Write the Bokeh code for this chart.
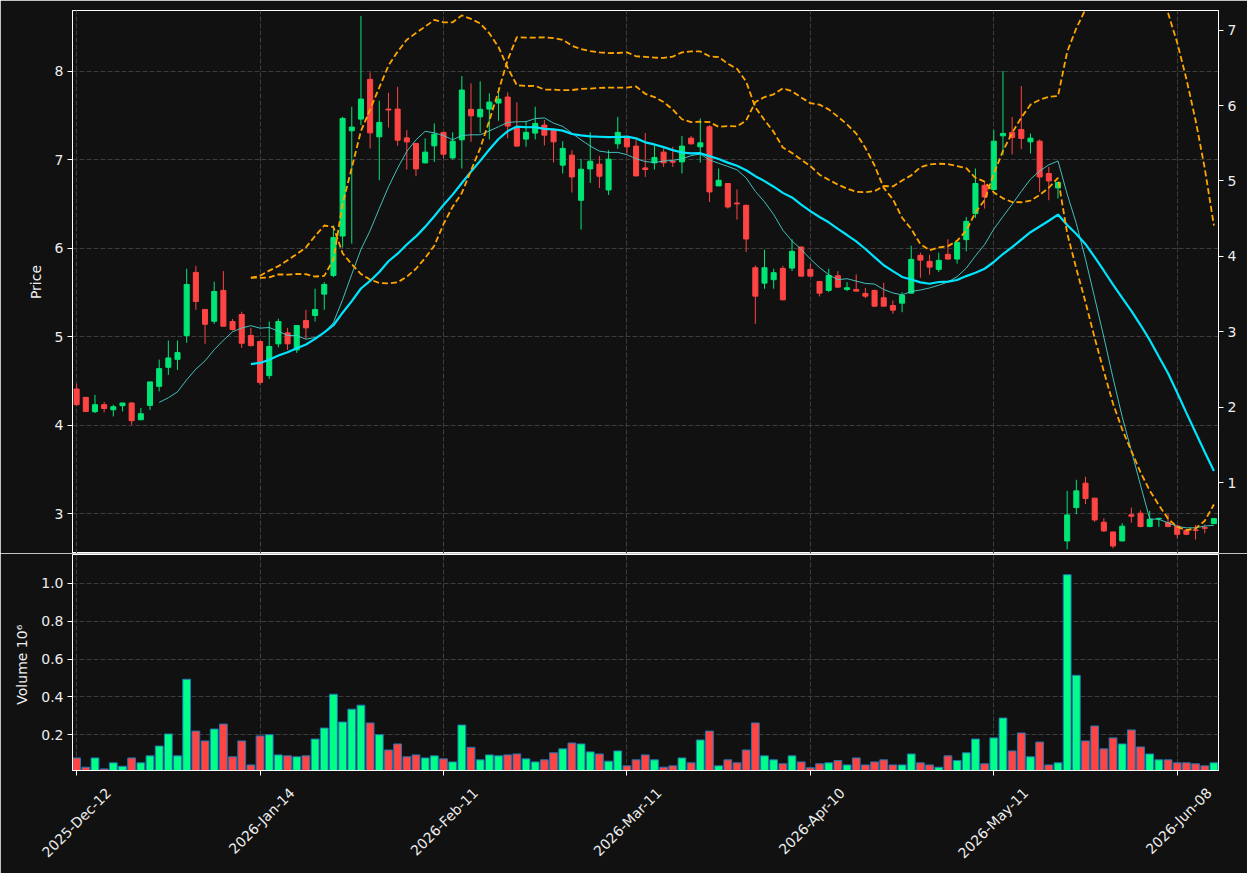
import numpy as np
import pandas as pd
from math import pi
from bokeh.plotting import figure
from bokeh.models import ColumnDataSource, Range1d, LinearAxis, FixedTicker, PrintfTickFormatter
from bokeh.layouts import column
from bokeh.embed import file_html
from bokeh.resources import INLINE

# ---------------- data ----------------
open_ = [4.41, 4.316, 4.154, 4.233, 4.176, 4.222, 4.252, 4.063, 4.225, 4.44,
         4.655, 4.745, 5.014, 5.726, 5.308, 5.175, 5.523, 5.172, 5.251, 5.014,
         4.946, 4.561, 4.92, 5.044, 4.852, 5.183, 5.24, 5.481, 5.692, 6.137,
         7.325, 7.457, 7.906, 7.257, 7.57, 7.57, 7.245, 7.182, 6.963, 7.155,
         7.307, 7.019, 7.223, 7.567, 7.483, 7.57, 7.638, 7.706, 7.363, 7.231,
         7.299, 7.389, 7.34, 6.937, 7.05, 6.541, 6.895, 6.948, 6.657, 7.178,
         7.245, 7.152, 6.906, 6.963, 7.084, 6.98, 6.974, 7.242, 7.144, 7.37,
         6.703, 6.73, 6.51, 6.484, 5.779, 5.605, 5.644, 5.771, 5.775, 6.012,
         5.76, 5.624, 5.523, 5.689, 5.534, 5.534, 5.489, 5.523, 5.44, 5.353,
         5.379, 5.492, 5.919, 5.851, 5.76, 5.93, 5.877, 6.096, 6.39, 6.71,
         6.662, 7.268, 7.307, 7.34, 7.20, 7.208, 6.843, 6.68, 2.695, 3.071,
         3.347, 3.178, 2.906, 2.796, 2.695, 2.99, 3.008, 2.857, 2.945, 2.902,
         2.864, 2.816, 2.82, 2.845, 2.89]
high = [4.47, 4.32, 4.343, 4.264, 4.233, 4.252, 4.26, 4.196, 4.49, 4.742,
        4.957, 4.957, 5.768, 5.80, 5.31, 5.621, 5.741, 5.20, 5.282, 5.10,
        4.957, 5.172, 5.203, 5.10, 5.13, 5.304, 5.542, 5.617, 6.258, 7.483,
        7.596, 8.622, 7.985, 7.664, 7.755, 7.822, 7.333, 7.19, 7.239, 7.408,
        7.31, 7.307, 7.943, 7.861, 7.883, 7.748, 7.804, 7.759, 7.646, 7.438,
        7.596, 7.446, 7.35, 7.208, 7.106, 7.005, 7.307, 7.042, 7.106, 7.483,
        7.25, 7.219, 7.30, 7.163, 7.126, 7.144, 7.265, 7.265, 7.465, 7.389,
        6.899, 6.73, 6.662, 6.49, 5.805, 5.983, 5.768, 5.80, 6.10, 6.02,
        5.825, 5.63, 5.768, 5.74, 5.617, 5.704, 5.553, 5.53, 5.61, 5.41,
        5.503, 6.028, 5.949, 5.926, 5.949, 6.10, 6.07, 6.352, 6.899, 6.748,
        7.333, 8.0, 7.48, 7.83, 7.295, 7.227, 6.917, 6.75, 3.26, 3.385,
        3.419, 3.18, 2.951, 2.80, 2.895, 3.071, 3.042, 3.034, 2.955, 2.997,
        2.87, 2.82, 2.876, 2.88, 2.95]
low = [4.22, 4.15, 4.139, 4.146, 4.10, 4.157, 4.003, 4.06, 4.173, 4.383,
       4.569, 4.626, 4.931, 5.304, 4.92, 5.146, 5.119, 5.07, 4.874, 4.89,
       4.459, 4.524, 4.881, 4.852, 4.818, 4.976, 5.172, 5.304, 5.673, 6.006,
       6.051, 7.389, 7.126, 6.767, 7.363, 7.155, 6.888, 6.812, 6.955, 6.974,
       7.012, 7.0, 6.899, 7.20, 7.302, 7.227, 7.438, 7.239, 7.15, 7.144,
       7.227, 7.159, 6.967, 6.843, 6.628, 6.209, 6.736, 6.68, 6.601, 7.121,
       7.069, 6.81, 6.804, 6.888, 6.917, 6.917, 6.843, 7.17, 6.967, 6.521,
       6.70, 6.447, 6.322, 5.956, 5.146, 5.542, 5.542, 5.41, 5.741, 5.68,
       5.68, 5.455, 5.503, 5.55, 5.515, 5.51, 5.435, 5.34, 5.34, 5.259,
       5.277, 5.49, 5.666, 5.70, 5.73, 5.87, 5.825, 5.964, 6.34, 6.447,
       6.65, 7.05, 7.058, 7.118, 7.069, 6.635, 6.541, 6.56, 2.60, 2.997,
       3.11, 2.91, 2.796, 2.612, 2.69, 2.90, 2.85, 2.85, 2.853, 2.85,
       2.725, 2.76, 2.71, 2.78, 2.89]
close = [4.233, 4.157, 4.233, 4.19, 4.21, 4.252, 4.052, 4.131, 4.49, 4.64,
         4.761, 4.821, 5.59, 5.398, 5.141, 5.511, 5.119, 5.081, 4.926, 4.90,
         4.485, 4.89, 5.172, 4.92, 5.127, 5.10, 5.308, 5.59, 6.119, 7.465,
         7.367, 7.683, 7.302, 7.42, 7.56, 7.219, 7.20, 6.895, 7.084, 7.287,
         7.061, 7.208, 7.785, 7.494, 7.567, 7.649, 7.683, 7.378, 7.152, 7.307,
         7.408, 7.276, 7.20, 7.126, 6.804, 6.891, 6.982, 6.812, 7.005, 7.307,
         7.144, 6.816, 6.888, 7.024, 6.963, 6.97, 7.152, 7.178, 7.189, 6.635,
         6.767, 6.465, 6.50, 6.103, 5.458, 5.779, 5.723, 5.417, 5.964, 5.684,
         5.684, 5.492, 5.692, 5.56, 5.553, 5.515, 5.458, 5.345, 5.345, 5.30,
         5.466, 5.873, 5.865, 5.786, 5.862, 5.877, 6.066, 6.303, 6.73, 6.578,
         7.208, 7.295, 7.25, 7.239, 7.242, 6.804, 6.759, 6.741, 2.989, 3.26,
         3.173, 2.932, 2.808, 2.638, 2.861, 2.974, 2.857, 2.94, 2.95, 2.857,
         2.77, 2.77, 2.812, 2.838, 2.947]
volume_m = [0.077, 0.028, 0.077, 0.019, 0.051, 0.033, 0.077, 0.051, 0.088, 0.14,
            0.204, 0.088, 0.493, 0.219, 0.167, 0.23, 0.256, 0.083, 0.167, 0.04,
            0.193, 0.20, 0.093, 0.088, 0.083, 0.088, 0.177, 0.235, 0.414, 0.267,
            0.335, 0.356, 0.262, 0.20, 0.119, 0.151, 0.083, 0.093, 0.077, 0.088,
            0.072, 0.056, 0.251, 0.133, 0.067, 0.093, 0.088, 0.093, 0.098, 0.072,
            0.056, 0.067, 0.104, 0.125, 0.156, 0.151, 0.109, 0.098, 0.06, 0.114,
            0.035, 0.067, 0.093, 0.067, 0.028, 0.035, 0.077, 0.051, 0.172, 0.219,
            0.035, 0.067, 0.051, 0.119, 0.262, 0.088, 0.067, 0.046, 0.088, 0.056,
            0.025, 0.046, 0.051, 0.063, 0.04, 0.077, 0.04, 0.056, 0.067, 0.04,
            0.04, 0.098, 0.051, 0.04, 0.028, 0.088, 0.063, 0.104, 0.177, 0.046,
            0.183, 0.288, 0.114, 0.209, 0.083, 0.161, 0.04, 0.051, 1.046, 0.514,
            0.167, 0.246, 0.125, 0.183, 0.151, 0.225, 0.135, 0.098, 0.067, 0.067,
            0.051, 0.051, 0.046, 0.035, 0.051]
tick_pos = [0, 20, 40, 60, 80, 100, 120]
tick_labels = ["2025-Dec-12", "2026-Jan-14", "2026-Feb-11", "2026-Mar-11",
               "2026-Apr-10", "2026-May-11", "2026-Jun-08"]
price_ticks = [3, 4, 5, 6, 7, 8]
lower_ticks = [1, 2, 3, 4, 5, 6, 7]
vol_ticks = [0.2, 0.4, 0.6, 0.8, 1.0]

# ---------------- styling ----------------
BG = "#111111"
UP, DOWN = "#00e676", "#ff4444"
VUP, VDOWN = "#00ff88", "#ff4444"
TXT = "#eeeeee"
GRID = "#3d3d3d"
FONT = "DejaVu Sans"
W = 1247
BL, BR = 72, 29           # left / right borders (px)
X0, X1 = -0.45, 124.5     # x range of the frames
LABEL_SHIFT_PX = 32       # rotated labels are centred on their tick

n = len(close)
df = pd.DataFrame(dict(x=np.arange(n), open=open_, high=high, low=low,
                       close=close, volume=volume_m))
up = df["close"] >= df["open"]
df["color"] = np.where(up, UP, DOWN)
df["vcolor"] = np.where(up, VUP, VDOWN)
df["top"] = df[["open", "close"]].max(axis=1)
df["bottom"] = df[["open", "close"]].min(axis=1)
df["ma10"] = df["close"].rolling(10).mean()
df["ma20"] = df["close"].rolling(20).mean()
sd = df["close"].rolling(20).std(ddof=0)
df["upper"] = df["ma20"] + 2 * sd
df["lower"] = df["ma20"] - 2 * sd
src = ColumnDataSource(df)


def style_axis(ax):
    ax.axis_line_color = "white"
    ax.major_tick_line_color = "white"
    ax.minor_tick_line_color = None
    ax.major_tick_out = 5
    ax.major_tick_in = 0
    ax.major_label_text_color = TXT
    ax.major_label_text_font = FONT
    ax.major_label_text_font_size = "14px"
    ax.major_label_standoff = 4
    ax.axis_label_text_color = TXT
    ax.axis_label_text_font = FONT
    ax.axis_label_text_font_size = "14px"
    ax.axis_label_text_font_style = "normal"
    ax.axis_label_standoff = 8


def style_grid(fig):
    for g in fig.grid:
        g.grid_line_color = GRID
        g.grid_line_dash = "5 2"
        g.grid_line_width = 1


xr = Range1d(X0, X1)

# ---------------- price panel ----------------
p = figure(width=W, height=553, x_range=xr, y_range=Range1d(2.553, 8.683),
           output_backend="svg", toolbar_location=None, x_axis_location=None,
           min_border_left=BL, min_border_right=BR, min_border_top=10, min_border_bottom=0,
           background_fill_color=BG, border_fill_color=BG)
p.outline_line_color = "white"
p.extra_y_ranges = {"lower": Range1d(0.062, 7.26)}
p.yaxis.ticker = FixedTicker(ticks=price_ticks)
p.yaxis.axis_label = "Price"
style_axis(p.yaxis[0])
rax = LinearAxis(y_range_name="lower", ticker=FixedTicker(ticks=lower_ticks))
style_axis(rax)
p.add_layout(rax, "right")
p.xgrid.ticker = FixedTicker(ticks=tick_pos)
style_grid(p)

p.segment(x0="x", y0="high", x1="x", y1="low", color="color", line_width=1, source=src)
p.vbar(x="x", width=0.55, top="top", bottom="bottom", fill_color="color",
       line_color="color", line_width=1, source=src)
p.line("x", "ma10", color="#48d1cc", line_width=1, alpha=0.9, source=src)
p.line("x", "ma20", color="#00e5ff", line_width=2.2, source=src)
p.line("x", "upper", color="#ffa500", line_width=1.8, line_dash="6 3", source=src)
p.line("x", "lower", color="#ffa500", line_width=1.8, line_dash="6 3",
       y_range_name="lower", source=src)

# ---------------- volume panel ----------------
v = figure(width=W, height=320, x_range=xr, y_range=Range1d(0.0105, 1.153),
           output_backend="svg", toolbar_location=None,
           min_border_left=BL, min_border_right=BR, min_border_top=1, min_border_bottom=103,
           background_fill_color=BG, border_fill_color=BG)
v.outline_line_color = "white"
v.yaxis.ticker = FixedTicker(ticks=vol_ticks)
v.yaxis.formatter = PrintfTickFormatter(format="%.1f")
v.yaxis.axis_label = "Volume  10\u2076"
style_axis(v.yaxis[0])
# tick marks only
v.xaxis.ticker = FixedTicker(ticks=tick_pos)
style_axis(v.xaxis[0])
v.xaxis.major_label_text_color = None
v.xgrid.ticker = FixedTicker(ticks=tick_pos)
style_grid(v)

# rotated date labels, centred on their ticks (axis on a shifted copy of the x range)
ppu = (W - BL - BR) / (X1 - X0)
shift = LABEL_SHIFT_PX / ppu
v.extra_x_ranges = {"labels": Range1d(X0 - shift, X1 - shift)}
lab_axis = LinearAxis(x_range_name="labels", ticker=FixedTicker(ticks=tick_pos),
                      major_label_overrides={t: s for t, s in zip(tick_pos, tick_labels)})
style_axis(lab_axis)
lab_axis.axis_line_color = None
lab_axis.major_tick_line_color = None
lab_axis.major_tick_out = 0
lab_axis.major_label_standoff = 15
lab_axis.major_label_orientation = pi / 4
v.add_layout(lab_axis, "below")

v.vbar(x="x", width=0.85, top="volume", bottom=0, fill_color="vcolor",
       line_color="#1f77b4", line_width=1, source=src)

layout = column(p, v, spacing=0)
open("out.html", "w").write(file_html(layout, INLINE))
